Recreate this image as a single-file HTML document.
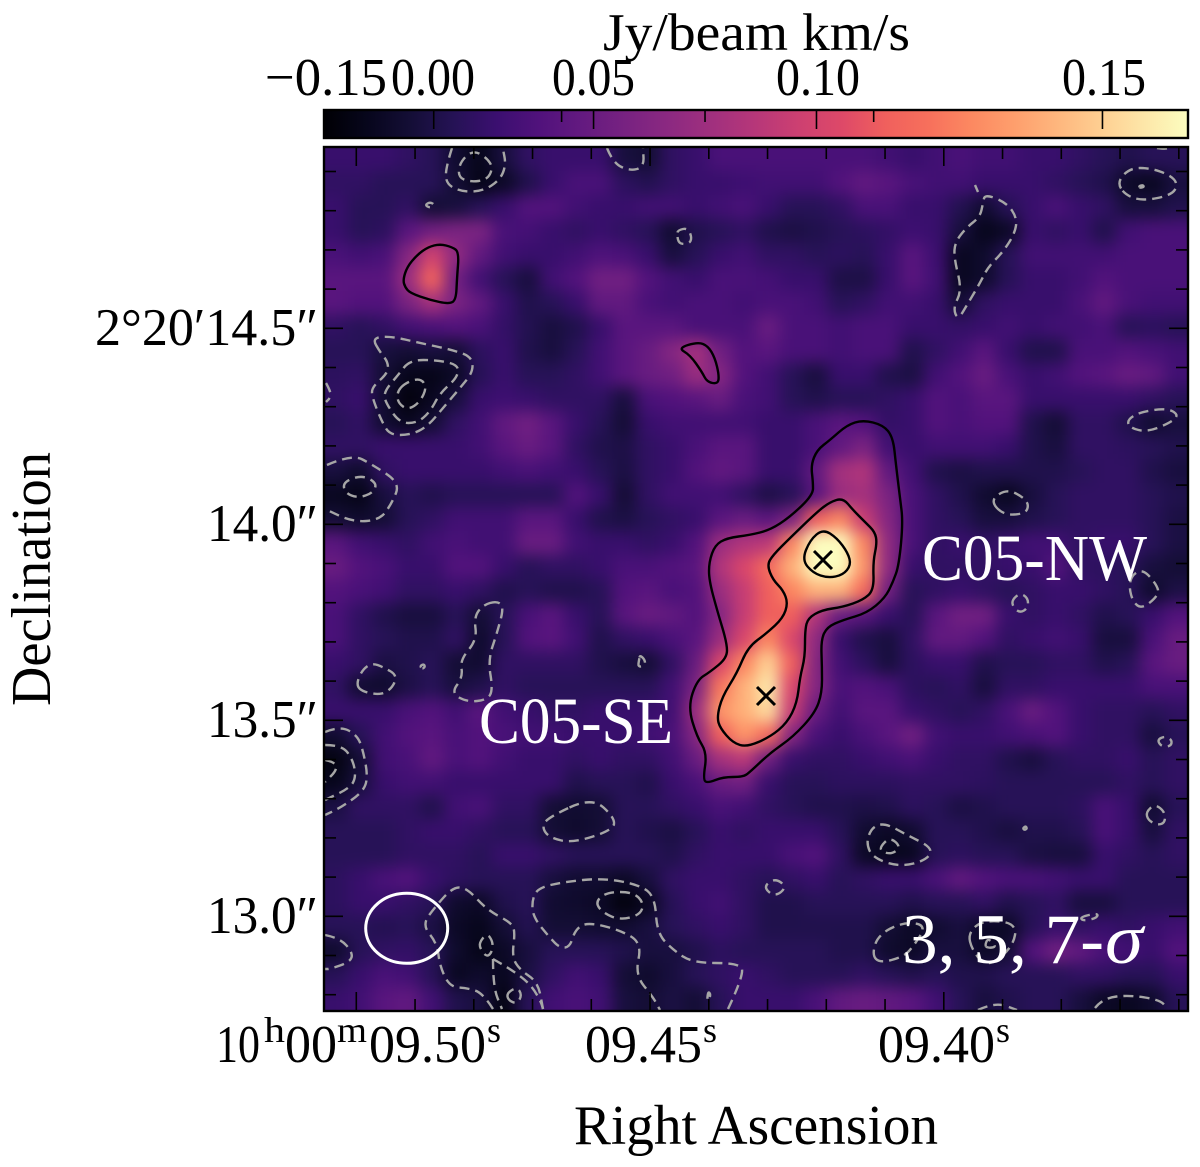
<!DOCTYPE html>
<html lang="en">
<head>
<meta charset="utf-8">
<title>C05 moment map</title>
<style>
html,body{margin:0;padding:0;background:#fff;}
svg{display:block;}
text{font-family:"Liberation Serif",serif;fill:#000;}
</style>
</head>
<body>
<svg id="chart" xmlns="http://www.w3.org/2000/svg" width="1200" height="1167" viewBox="0 0 1200 1167">
  <defs>
    <linearGradient id="magma" x1="0" x2="1" y1="0" y2="0">
      <stop offset="0" stop-color="#000004"/><stop offset="0.05" stop-color="#07061c"/>
      <stop offset="0.1" stop-color="#140e36"/><stop offset="0.15" stop-color="#251255"/>
      <stop offset="0.2" stop-color="#3b0f70"/><stop offset="0.25" stop-color="#51127c"/>
      <stop offset="0.3" stop-color="#641a80"/><stop offset="0.35" stop-color="#782281"/>
      <stop offset="0.4" stop-color="#8c2981"/><stop offset="0.45" stop-color="#a1307e"/>
      <stop offset="0.5" stop-color="#b73779"/><stop offset="0.55" stop-color="#cd4071"/>
      <stop offset="0.6" stop-color="#de4968"/><stop offset="0.65" stop-color="#f0605d"/>
      <stop offset="0.7" stop-color="#f7705c"/><stop offset="0.75" stop-color="#fc8961"/>
      <stop offset="0.8" stop-color="#fe9f6d"/><stop offset="0.85" stop-color="#feb77e"/>
      <stop offset="0.9" stop-color="#fecf92"/><stop offset="0.95" stop-color="#fde7a9"/>
      <stop offset="1" stop-color="#fcfdbf"/>
    </linearGradient>
    <clipPath id="plotClip"><rect x="324" y="147" width="864" height="864"/></clipPath>
    <filter id="soften" x="-10%" y="-10%" width="120%" height="120%" color-interpolation-filters="sRGB">
      <feGaussianBlur stdDeviation="8"/>
    </filter>
  </defs>

  <g id="plotArea" clip-path="url(#plotClip)">
    <g id="heatmap" filter="url(#soften)"></g>
    <g id="contours"></g>
    <g id="markers"></g>
    <ellipse cx="406.7" cy="928.3" rx="41" ry="35" fill="none" stroke="#fff" stroke-width="3"/>
    <text x="922" y="580" font-size="66" textLength="225" lengthAdjust="spacingAndGlyphs" style="fill:#fff">C05-NW</text>
    <text x="479" y="743" font-size="66" textLength="194" lengthAdjust="spacingAndGlyphs" style="fill:#fff">C05-SE</text>
    <text x="902" y="963" font-size="71" textLength="202" lengthAdjust="spacingAndGlyphs" style="fill:#fff">3, 5, 7-</text>
    <text x="1105" y="963" font-size="71" font-style="italic" textLength="38" lengthAdjust="spacingAndGlyphs" style="fill:#fff">σ</text>
  </g>
  <g id="axisTicks"></g>
  <rect x="324" y="147" width="864" height="864" fill="none" stroke="#000" stroke-width="2.4"/>

  <rect x="324" y="110" width="864" height="28" fill="url(#magma)"/>
  <g id="cbarTicks"></g>
  <rect x="324" y="110" width="864" height="28" fill="none" stroke="#000" stroke-width="2.4"/>
  <text x="603" y="50" font-size="53" textLength="307" lengthAdjust="spacingAndGlyphs">Jy/beam km/s</text>
  <text x="265" y="95" font-size="53" textLength="122" lengthAdjust="spacingAndGlyphs">−0.15</text>
  <text x="391" y="95" font-size="53" textLength="84" lengthAdjust="spacingAndGlyphs">0.00</text>
  <text x="552" y="95" font-size="53" textLength="83" lengthAdjust="spacingAndGlyphs">0.05</text>
  <text x="776" y="95" font-size="53" textLength="84" lengthAdjust="spacingAndGlyphs">0.10</text>
  <text x="1062" y="95" font-size="53" textLength="84" lengthAdjust="spacingAndGlyphs">0.15</text>

  <text x="95" y="345" font-size="53" textLength="223" lengthAdjust="spacingAndGlyphs">2°20′14.5″</text>
  <text x="207" y="541" font-size="53" textLength="111" lengthAdjust="spacingAndGlyphs">14.0″</text>
  <text x="207" y="737" font-size="53" textLength="111" lengthAdjust="spacingAndGlyphs">13.5″</text>
  <text x="207" y="933" font-size="53" textLength="111" lengthAdjust="spacingAndGlyphs">13.0″</text>

  <g>
    <text x="216" y="1062" font-size="53" textLength="44" lengthAdjust="spacingAndGlyphs">10</text>
    <text x="264" y="1042" font-size="36" textLength="21" lengthAdjust="spacingAndGlyphs">h</text>
    <text x="285" y="1062" font-size="53" textLength="52" lengthAdjust="spacingAndGlyphs">00</text>
    <text x="337" y="1042" font-size="36" textLength="30" lengthAdjust="spacingAndGlyphs">m</text>
    <text x="369" y="1062" font-size="53" textLength="117" lengthAdjust="spacingAndGlyphs">09.50</text>
    <text x="487" y="1042" font-size="36" textLength="14" lengthAdjust="spacingAndGlyphs">s</text>
  </g>
  <g>
    <text x="585" y="1062" font-size="53" textLength="117" lengthAdjust="spacingAndGlyphs">09.45</text>
    <text x="703" y="1042" font-size="36" textLength="14" lengthAdjust="spacingAndGlyphs">s</text>
  </g>
  <g>
    <text x="878" y="1062" font-size="53" textLength="117" lengthAdjust="spacingAndGlyphs">09.40</text>
    <text x="996" y="1042" font-size="36" textLength="14" lengthAdjust="spacingAndGlyphs">s</text>
  </g>

  <text x="574" y="1144" font-size="56" textLength="364" lengthAdjust="spacingAndGlyphs">Right Ascension</text>
  <text transform="translate(50,706) rotate(-90)" x="0" y="0" font-size="56" textLength="254" lengthAdjust="spacingAndGlyphs">Declination</text>
</svg>

<script>
// Integrated flux, mJy/beam km/s, one row per declination step (top to bottom).
const fluxGrid = [
[15,15,15,10,5,-10,-20,-5,10,15,15,15,-5,-8,10,15,25,25,25,25,25,25,25,20,15,20,25,20,20,15,15,10,5,0,5,5],
[10,10,5,5,5,-8,-22,-15,0,15,25,25,8,2,10,15,15,18,20,20,20,30,40,35,25,20,20,15,15,15,10,5,0,-14,-18,-5],
[15,5,5,10,-8,-5,5,15,30,30,20,15,15,20,20,15,20,25,15,5,5,10,25,25,15,15,2,-10,5,15,25,15,10,-5,-5,0],
[15,5,8,35,50,55,55,25,22,15,10,15,10,5,-10,0,5,10,0,-3,0,5,8,12,18,15,-5,-20,-15,15,10,15,0,20,25,25],
[25,20,25,60,95,65,40,20,15,15,20,28,25,15,-5,5,15,20,10,10,5,8,5,15,35,18,-18,-12,5,20,20,20,20,25,25,25],
[35,35,35,70,112,50,20,5,-5,20,30,50,50,30,20,15,25,25,22,15,15,-2,-2,15,35,20,-18,-12,5,15,15,20,30,25,25,25],
[35,30,30,55,75,55,40,15,0,5,15,40,40,25,20,25,25,20,25,25,20,5,10,20,20,15,-8,10,15,15,15,25,40,25,20,20],
[10,5,10,20,25,30,25,12,2,-5,0,15,35,35,35,25,25,25,45,25,25,20,25,25,15,15,12,15,20,15,20,20,25,5,8,5],
[5,5,-5,-8,-5,-8,8,15,0,-5,5,20,35,45,60,75,50,30,35,25,25,20,25,25,0,10,20,35,15,0,0,25,25,30,25,20],
[8,10,-8,-20,-22,-15,5,15,5,5,10,20,35,45,50,70,60,30,20,5,-5,15,15,0,-3,20,30,45,25,15,20,30,35,45,40,20],
[10,15,-10,-28,-18,-5,15,18,15,10,10,10,-5,25,30,35,45,25,20,5,0,5,5,10,15,30,25,35,35,15,15,15,15,15,10,5],
[5,10,-10,-18,-8,10,20,40,50,35,15,5,-8,15,20,20,20,20,15,15,25,35,30,12,15,30,25,30,30,0,-8,10,10,0,-10,-5],
[10,10,15,15,15,15,20,35,45,35,10,0,-2,10,15,25,35,35,15,15,25,40,55,20,15,20,20,20,15,0,-5,10,10,8,5,0],
[-5,-12,10,15,15,15,15,20,25,20,15,5,-3,10,15,30,40,35,15,15,40,75,80,40,20,0,-3,0,0,0,0,5,10,10,0,-5],
[-18,-22,-5,5,0,5,5,5,5,5,30,15,-8,10,20,20,20,10,-2,5,35,70,75,55,25,10,0,-10,-18,-5,5,10,10,10,5,0],
[-8,-12,-8,5,10,20,20,20,35,35,15,0,-3,5,10,15,35,45,35,55,110,125,90,60,25,10,5,-5,-5,0,5,10,10,10,5,-3],
[35,20,15,10,20,25,20,20,45,45,20,15,15,10,15,30,70,80,85,125,170,170,125,65,25,10,15,10,15,20,20,10,15,15,5,-3],
[45,30,25,15,15,30,30,15,5,10,10,15,25,25,30,35,80,100,115,140,185,185,130,65,15,10,10,10,15,15,30,10,8,5,-5,-8],
[30,25,20,10,10,15,10,0,5,0,0,5,30,35,25,30,70,90,110,125,140,140,115,50,5,10,15,10,5,10,15,15,10,5,-12,-2],
[25,10,0,-5,-5,5,-8,5,25,35,15,5,35,45,40,30,60,90,110,110,80,45,35,15,5,35,50,50,15,10,15,10,0,5,15,30],
[25,10,5,0,0,10,-12,5,30,35,20,0,10,15,25,35,70,100,125,100,65,15,0,-5,10,40,40,30,10,15,20,15,-5,-5,25,45],
[15,10,-3,0,5,-8,-10,10,10,10,10,0,-5,-8,10,45,100,125,150,110,60,20,8,-5,8,15,15,0,5,5,10,10,0,5,35,45],
[10,-10,-12,-2,5,-5,0,10,5,5,5,5,5,5,20,55,120,140,160,100,60,25,30,25,8,5,10,-5,10,10,15,15,15,15,25,25],
[15,15,15,25,30,20,35,20,15,10,10,15,15,15,20,70,130,140,155,90,45,20,35,35,15,10,5,10,25,45,30,15,10,10,5,10],
[-10,5,20,30,35,25,30,25,20,20,15,15,15,20,25,60,110,130,115,60,25,15,25,35,50,20,15,15,20,25,30,15,10,10,-5,5],
[-25,-8,20,25,40,25,30,20,15,15,10,15,10,10,20,45,75,85,50,15,10,10,15,20,25,15,10,10,0,-5,5,10,10,15,5,10],
[-20,-5,15,20,20,15,15,15,15,15,0,5,5,0,15,25,45,50,15,5,5,8,8,8,10,10,10,8,5,5,5,5,5,10,5,10],
[-3,10,10,10,0,20,25,10,10,-8,-10,-8,5,5,10,15,25,20,10,5,0,0,-2,0,8,5,-3,0,5,5,5,8,25,15,-10,5],
[5,5,5,10,15,15,10,5,5,-8,-12,-8,5,0,-3,5,15,10,15,15,15,5,-10,-15,-10,5,5,0,-5,0,0,5,25,15,-5,10],
[5,5,5,10,10,10,5,15,15,10,5,5,5,5,0,10,15,15,15,25,30,10,-15,-20,-18,5,8,5,5,-3,-5,-5,15,10,5,10],
[8,15,25,30,15,8,5,5,5,-5,-10,-10,-15,-5,10,15,15,10,5,10,15,5,10,15,15,25,40,30,25,25,20,15,15,5,5,5],
[8,15,15,10,5,-12,-15,0,5,-10,-12,-15,-28,-18,5,15,20,10,0,0,5,5,5,5,0,5,5,10,0,5,10,-5,-5,5,5,5],
[5,5,2,5,-3,-15,-20,-8,2,-8,-8,-10,-10,-5,5,10,15,10,0,0,0,0,0,-8,-15,-10,-5,-15,-15,5,15,10,15,10,15,20],
[-12,5,10,12,5,-12,-22,-15,-5,5,5,5,0,-5,-5,0,8,5,5,5,5,0,0,-12,-15,-5,-5,-15,-8,30,50,40,25,20,15,30],
[5,15,25,20,5,-18,-12,-18,-3,10,20,15,-8,-12,-5,5,10,15,10,5,5,5,10,5,0,5,0,0,5,5,5,10,10,5,5,15],
[15,20,35,40,20,0,-5,-25,5,20,25,20,-5,-8,-3,-8,5,15,15,15,25,40,45,40,35,20,5,-5,0,5,5,-5,-15,-18,-12,5]
];

// Colour-scale anchors: flux value (mJy) -> fraction along magma.
const normValues = [-30,-20,-10,0,50,100,150,170];
const normFractions = [0.01,0.05,0.09,0.135,0.33,0.585,0.901,1];
// Colorbar tick anchors: flux value (mJy) -> fraction along the bar.
const cbarAnchorValues = [0,50,100,150,170];
const cbarAnchorFractions = [0.127,0.312,0.57,0.901,1];
const magmaColors = ["#000004","#07061c","#140e36","#251255","#3b0f70","#51127c","#641a80","#782281","#8c2981","#a1307e","#b73779","#cd4071","#de4968","#f0605d","#f7705c","#fc8961","#fe9f6d","#feb77e","#fecf92","#fde7a9","#fcfdbf"];

// Axis tick values.
const raTicks = [9.50,9.49,9.48,9.47,9.46,9.45,9.44,9.43,9.42,9.41,9.40,9.39,9.38,9.37,9.36];
const raMajorTicks = [9.50,9.45,9.40];
const decTicks = [14.9,14.8,14.7,14.6,14.5,14.4,14.3,14.2,14.1,14.0,13.9,13.8,13.7,13.6,13.5,13.4,13.3,13.2,13.1,13.0,12.9,12.8];
const decMajorTicks = [14.5,14.0,13.5,13.0];
const cbarMajorTicks = [0,0.05,0.10,0.15];
const cbarMinorTicks = [0.04,0.075,0.11];

// Contours in map offsets (units of 1/392 arcsec from the top-left corner of the field).
const positiveContours = [
[[79,133],[83,120],[93,108],[104,100],[116,97],[128,100],[135,105],[133,131],[132,153],[125,157],[106,153],[86,146],[81,140]],
[[354,201],[374,195],[384,199],[391,211],[395,228],[394,237],[383,235],[378,225],[366,208]],
[[539,273],[559,278],[569,290],[572,318],[576,351],[579,375],[575,418],[569,435],[561,451],[543,466],[519,473],[503,480],[497,493],[498,520],[498,546],[491,566],[469,590],[446,606],[426,625],[419,630],[399,630],[384,636],[379,633],[383,606],[373,590],[364,560],[373,533],[386,525],[403,511],[403,496],[393,463],[385,433],[385,415],[391,398],[403,391],[426,388],[446,383],[466,370],[489,348],[489,335],[487,318],[493,303],[506,293],[523,278]],
[[519,351],[529,363],[541,375],[551,385],[553,396],[549,415],[550,443],[539,453],[519,460],[498,463],[484,471],[481,483],[481,510],[476,530],[473,556],[463,576],[446,590],[423,600],[409,596],[396,581],[393,570],[398,550],[413,526],[424,500],[443,486],[459,471],[464,456],[459,443],[449,433],[443,418],[449,408],[466,391],[493,365],[506,355]],
[[499,382],[513,391],[524,406],[527,418],[519,428],[504,431],[489,426],[478,413],[486,393]]
];
const negativeClosedContours = [
[[134,30],[136,15],[149,3],[163,11],[169,21],[163,33],[146,35]],
[[101,58],[106,55],[111,58],[106,61]],
[[354,83],[364,81],[368,91],[365,97],[355,97],[353,88]],
[[48,191],[66,189],[96,196],[129,203],[148,210],[149,225],[136,241],[119,261],[103,280],[86,288],[66,288],[58,275],[48,250],[48,240],[64,226],[64,215],[56,205]],
[[86,213],[113,213],[135,218],[133,231],[116,246],[106,265],[93,276],[76,276],[63,258],[59,246],[74,228]],
[[81,236],[96,231],[103,240],[96,255],[84,263],[74,256],[73,245]],
[[19,335],[38,328],[53,336],[49,346],[34,351],[21,346]],
[[793,35],[806,21],[826,21],[846,28],[854,37],[848,48],[819,54],[801,48]],
[[815,39],[819,38],[820,40],[816,41]],
[[661,47],[683,56],[693,71],[691,86],[679,105],[664,120],[656,136],[643,158],[634,173],[629,161],[638,143],[630,111],[631,95],[643,80],[656,70],[659,56]],
[[803,273],[816,265],[843,261],[855,268],[846,276],[823,285],[806,281]],
[[666,353],[683,342],[699,350],[705,358],[701,367],[679,368]],
[[808,428],[819,422],[833,438],[835,448],[818,462],[809,455],[805,440]],
[[173,454],[180,460],[173,486],[164,513],[169,543],[163,553],[143,555],[127,546],[139,530],[136,513],[153,493],[150,470],[159,458]],
[[32,538],[38,523],[48,516],[59,520],[73,528],[69,540],[58,548],[39,545]],
[[96,519],[100,517],[101,520],[98,522]],
[[316,508],[321,513],[321,519],[314,520],[315,513]],
[[268,650],[291,671],[289,683],[249,696],[226,691],[218,681],[223,671]],
[[183,846],[193,840],[198,848],[193,857],[184,853]],
[[155,796],[163,786],[169,795],[168,805],[163,810],[157,803]],
[[271,755],[283,745],[309,745],[320,756],[316,768],[296,773],[279,766]],
[[384,844],[387,848],[383,856]],
[[688,453],[696,446],[704,451],[704,461],[696,466],[689,460]],
[[833,593],[841,589],[848,593],[847,599],[838,600]],
[[822,665],[831,657],[841,665],[841,676],[833,678],[824,673]],
[[699,681],[702,679],[703,682],[700,683]],
[[542,696],[548,680],[561,676],[583,688],[609,701],[603,713],[576,720],[549,711]],
[[556,700],[566,690],[577,700],[568,707],[558,705]],
[[439,740],[451,731],[463,740],[451,750]],
[[548,808],[554,788],[579,775],[603,778],[589,800],[579,810],[556,816]],
[[644,786],[659,773],[693,776],[689,800],[663,821],[648,803]],
[[661,798],[664,791],[673,800],[663,801]],
[[756,770],[774,766],[773,771],[759,774]]
];
const negativeOpenContours = [
[[128,1],[121,23],[123,38],[139,45],[159,44],[176,33],[182,18],[179,2]],
[[283,1],[289,16],[306,24],[320,20],[319,1]],
[[2,236],[7,245],[6,251],[2,255]],
[[3,318],[28,307],[49,318],[76,336],[68,356],[56,373],[29,375],[3,363]],
[[651,38],[654,45]],
[[833,1],[840,2],[845,1]],
[[1,585],[16,579],[33,588],[39,603],[44,630],[39,645],[16,661],[1,668]],
[[1,598],[18,598],[29,613],[32,630],[26,641],[1,653]],
[[1,613],[11,615],[13,623],[1,635]],
[[169,862],[159,846],[143,841],[126,840],[116,820],[113,796],[98,778],[111,760],[129,740],[143,741],[163,763],[188,776],[191,786],[188,810],[196,823],[214,835],[219,862]],
[[169,812],[183,820],[199,831],[209,841],[217,855],[219,862]],
[[169,812],[169,840],[178,862]],
[[1,788],[16,791],[29,806],[26,815],[6,822],[1,822]],
[[404,862],[421,826],[414,816],[369,816],[349,803],[333,786],[331,750],[316,738],[279,731],[239,735],[214,741],[208,753],[209,770],[226,791],[236,801],[246,800],[251,783],[263,775],[296,783],[318,796],[311,828],[329,850],[336,863]],
[[654,863],[671,855],[693,863]],
[[771,861],[779,851],[806,848],[836,853],[843,861]]
];
const sourcePositions = [[499,413],[442,549]];

// Axis functions.
const plotLeft = 324, plotTop = 147, plotSize = 864, fieldExtent = 864;
function mapX(u){ return plotLeft + u * plotSize / fieldExtent; }
function mapY(v){ return plotTop + v * plotSize / fieldExtent; }
function xOfRa(ra){ return 356.3 + (9.50 - ra) * 5875; }
function yOfDec(dec){ return 328.3 + (14.5 - dec) * 392; }
function piecewise(v, xs, ys){
  if (v <= xs[0]) return ys[0];
  for (let i = 1; i < xs.length; i++) {
    if (v <= xs[i]) {
      const f = (v - xs[i-1]) / (xs[i] - xs[i-1]);
      return ys[i-1] + f * (ys[i] - ys[i-1]);
    }
  }
  return ys[ys.length-1];
}
function fraction(v){ return piecewise(v, normValues, normFractions); }
function xOfColorbar(v){ return plotLeft + piecewise(v * 1000, cbarAnchorValues, cbarAnchorFractions) * plotSize; }
function hexToRgb(h){ return [parseInt(h.slice(1,3),16),parseInt(h.slice(3,5),16),parseInt(h.slice(5,7),16)]; }
function magma(t){
  const p = Math.min(Math.max(t,0),1) * (magmaColors.length - 1);
  const i = Math.min(Math.floor(p), magmaColors.length - 2);
  const a = hexToRgb(magmaColors[i]), b = hexToRgb(magmaColors[i+1]), f = p - i;
  return "rgb(" + a.map((c,k)=>Math.round(c + (b[k]-c)*f)).join(",") + ")";
}

const NS = "http://www.w3.org/2000/svg";
function drawLine(parent, x1, y1, x2, y2, width){
  const el = document.createElementNS(NS, "line");
  el.setAttribute("x1", x1); el.setAttribute("y1", y1);
  el.setAttribute("x2", x2); el.setAttribute("y2", y2);
  el.setAttribute("stroke", "#000");
  el.setAttribute("stroke-width", width);
  parent.appendChild(el);
  return el;
}

// Heatmap cells; border cells extend past the frame so the softening stays opaque at the edges.
const heatmap = document.getElementById("heatmap");
const nRows = fluxGrid.length, nCols = fluxGrid[0].length;
const cellW = plotSize / nCols, cellH = plotSize / nRows;
fluxGrid.forEach(function(row, j){
  row.forEach(function(value, i){
    const el = document.createElementNS(NS, "rect");
    const padL = i === 0 ? 40 : 0, padR = i === nCols - 1 ? 40 : 0;
    const padT = j === 0 ? 40 : 0, padB = j === nRows - 1 ? 40 : 0;
    el.setAttribute("x", plotLeft + i * cellW - padL);
    el.setAttribute("y", plotTop + j * cellH - padT);
    el.setAttribute("width", cellW + padL + padR + 0.5);
    el.setAttribute("height", cellH + padT + padB + 0.5);
    el.setAttribute("fill", magma(fraction(value)));
    
    
    heatmap.appendChild(el);
  });
});

// Contours.
function smoothPath(pts, closed){
  const P = pts.map(function(p){ return [mapX(p[0]), mapY(p[1])]; });
  const mid = function(a,b){ return [(a[0]+b[0])/2,(a[1]+b[1])/2]; };
  let d = "";
  if (closed) {
    const n = P.length;
    const s = mid(P[n-1], P[0]);
    d = "M" + s[0] + " " + s[1];
    for (let i = 0; i < n; i++) {
      const m = mid(P[i], P[(i+1)%n]);
      d += "Q" + P[i][0] + " " + P[i][1] + " " + m[0] + " " + m[1];
    }
    return d + "Z";
  }
  d = "M" + P[0][0] + " " + P[0][1];
  for (let i = 1; i < P.length - 1; i++) {
    const m = mid(P[i], P[i+1]);
    d += "Q" + P[i][0] + " " + P[i][1] + " " + m[0] + " " + m[1];
  }
  const last = P[P.length-1];
  return d + "L" + last[0] + " " + last[1];
}
const contourGroup = document.getElementById("contours");
negativeClosedContours.forEach(function(c){
  const el = document.createElementNS(NS, "path");
  el.setAttribute("d", smoothPath(c, true));
  el.setAttribute("fill", "none");
  el.setAttribute("stroke", "#a6a6a6");
  el.setAttribute("stroke-width", "2.4");
  el.setAttribute("stroke-dasharray", "10 6");
  
  
  contourGroup.appendChild(el);
});
negativeOpenContours.forEach(function(c){
  const el = document.createElementNS(NS, "path");
  el.setAttribute("d", smoothPath(c, false));
  el.setAttribute("fill", "none");
  el.setAttribute("stroke", "#a6a6a6");
  el.setAttribute("stroke-width", "2.4");
  el.setAttribute("stroke-dasharray", "10 6");
  
  
  contourGroup.appendChild(el);
});
positiveContours.forEach(function(c){
  const el = document.createElementNS(NS, "path");
  el.setAttribute("d", smoothPath(c, true));
  el.setAttribute("fill", "none");
  el.setAttribute("stroke", "#000");
  el.setAttribute("stroke-width", "2.4");
  
  
  contourGroup.appendChild(el);
});

// Source markers.
const markerGroup = document.getElementById("markers");
sourcePositions.forEach(function(p){
  const el = document.createElementNS(NS, "path");
  const x = mapX(p[0]), y = mapY(p[1]), r = 9;
  el.setAttribute("d", "M"+(x-r)+" "+(y-r)+"L"+(x+r)+" "+(y+r)+"M"+(x-r)+" "+(y+r)+"L"+(x+r)+" "+(y-r));
  el.setAttribute("stroke", "#000");
  el.setAttribute("stroke-width", "3");
  el.setAttribute("fill", "none");
  
  
  markerGroup.appendChild(el);
});

// Axis ticks.
const tickGroup = document.getElementById("axisTicks");
const plotBottom = plotTop + plotSize, plotRight = plotLeft + plotSize;
raTicks.forEach(function(ra){
  const x = xOfRa(ra), len = raMajorTicks.indexOf(ra) >= 0 ? 19 : 12;
  const top = drawLine(tickGroup, x, plotTop, x, plotTop + len, 1.6);
  
  
  const bottom = drawLine(tickGroup, x, plotBottom, x, plotBottom - len, 1.6);
  
  
});
decTicks.forEach(function(dec){
  const y = yOfDec(dec), len = decMajorTicks.indexOf(dec) >= 0 ? 19 : 12;
  const left = drawLine(tickGroup, plotLeft, y, plotLeft + len, y, 1.6);
  
  
  const right = drawLine(tickGroup, plotRight, y, plotRight - len, y, 1.6);
  
  
});

// Colorbar ticks.
const cbarGroup = document.getElementById("cbarTicks");
cbarMajorTicks.forEach(function(v){
  const x = xOfColorbar(v);
  const el = drawLine(cbarGroup, x, 110, x, 129, 1.6);
  
  
});
cbarMinorTicks.forEach(function(v){
  const x = xOfColorbar(v);
  const el = drawLine(cbarGroup, x, 110, x, 122, 1.6);
  
  
});
</script>
</body>
</html>
